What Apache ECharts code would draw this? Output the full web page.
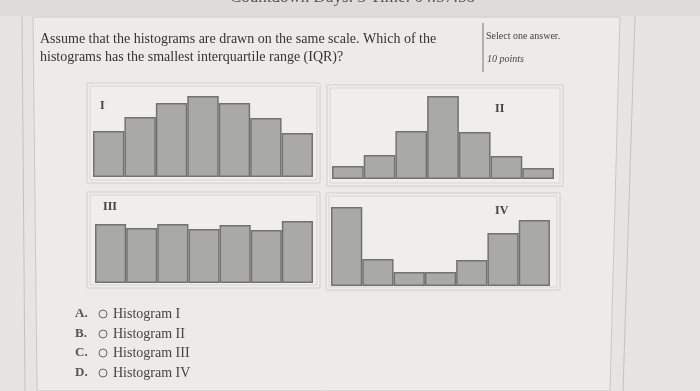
<!DOCTYPE html>
<html><head><meta charset="utf-8">
<script src="https://cdn.jsdelivr.net/npm/echarts@6/dist/echarts.min.js"></script>
<style>html,body{margin:0;padding:0;background:#e6e5e3;}#c{width:700px;height:391px;}</style>
</head><body><div id="c"></div>
<script>
// Data
const bins = ['1','2','3','4','5','6','7'];
const histI   = [46, 60, 74, 81, 74, 59, 44];
const histII  = [13, 24, 48, 83, 47, 23, 11];
const histIII = [59, 55, 59, 54, 58, 53, 62];
const histIV  = [79, 27, 14, 14, 26, 53, 66];
const histLabels = ['I', 'II', 'III', 'IV'];
const questionLines = ['Assume that the histograms are drawn on the same scale. Which of the',
                       'histograms has the smallest interquartile range (IQR)?'];
const choices = [['A.', 'Histogram I'], ['B.', 'Histogram II'], ['C.', 'Histogram III'], ['D.', 'Histogram IV']];

const chart = echarts.init(document.getElementById('c'));
const serif = '"Liberation Serif","DejaVu Serif",serif';
const grids = [
  {left: 93, top: 87, width: 220, height: 90},
  {left: 332, top: 89, width: 222, height: 90},
  {left: 95, top: 193, width: 218, height: 90},
  {left: 331, top: 196, width: 219, height: 90}
];
const allData = [histI, histII, histIII, histIV];
const barStyle = {color: '#a9a9a5', borderColor: '#727270', borderWidth: 1.5};

function box(x, y, w, h) {
  return [
    {type: 'rect', shape: {x: x, y: y, width: w, height: h}, style: {fill: '#efeeec', stroke: '#cfcecc', lineWidth: 1}},
    {type: 'rect', shape: {x: x + 3, y: y + 3, width: w - 6, height: h - 6}, style: {fill: 'none', stroke: '#d6d5d3', lineWidth: 1}}
  ];
}

const graphics = [
  {type: 'rect', shape: {x: 0, y: 0, width: 700, height: 16}, style: {fill: '#dddcda'}},
  {type: 'text', left: 230, top: -11, style: {text: 'Countdown Days: 3 Time: 04:57:58', font: '17px ' + serif, fill: '#555'}},
  {type: 'line', shape: {x1: 22, y1: 16, x2: 25, y2: 391}, style: {stroke: '#c4c3c1', lineWidth: 1}},
  {type: 'line', shape: {x1: 635, y1: 16, x2: 623, y2: 391}, style: {stroke: '#c4c3c1', lineWidth: 1}},
  {type: 'polygon', shape: {points: [[33, 17], [620, 17], [610, 391], [37, 391]]}, style: {fill: '#ecebe9', stroke: '#c9c8c6', lineWidth: 1}},
  {type: 'line', shape: {x1: 483, y1: 23, x2: 483, y2: 72}, style: {stroke: '#8a8987', lineWidth: 1.2}},
  {type: 'text', left: 486, top: 31, style: {text: 'Select one answer.', font: '10px ' + serif, fill: '#444'}},
  {type: 'text', left: 487, top: 54, style: {text: '10 points', font: 'italic 10px ' + serif, fill: '#444'}},
  {type: 'text', left: 40, top: 32, style: {text: questionLines[0], font: '14px ' + serif, fill: '#333'}},
  {type: 'text', left: 40, top: 50, style: {text: questionLines[1], font: '14px ' + serif, fill: '#333'}}
];
graphics.push(...box(87, 83, 233, 100));
graphics.push(...box(327, 85, 236, 101));
graphics.push(...box(87, 192, 233, 96));
graphics.push(...box(326, 193, 234, 97));
const labelPos = [[100, 100], [495, 103], [103, 201], [495, 205]];
histLabels.forEach((t, i) => graphics.push({type: 'text', left: labelPos[i][0], top: labelPos[i][1],
  style: {text: t, font: 'bold 12px ' + serif, fill: '#444'}}));
const rowY = [307, 327, 346, 366];
choices.forEach((c, i) => {
  graphics.push({type: 'text', left: 75, top: rowY[i], style: {text: c[0], font: 'bold 13px ' + serif, fill: '#555'}});
  graphics.push({type: 'circle', shape: {cx: 103, cy: rowY[i] + 7, r: 4}, style: {fill: 'none', stroke: '#666', lineWidth: 1}});
  graphics.push({type: 'text', left: 113, top: rowY[i], style: {text: c[1], font: '14px ' + serif, fill: '#444'}});
});

chart.setOption({
  animation: false,
  backgroundColor: '#e6e5e3',
  graphic: {elements: graphics},
  grid: grids,
  xAxis: grids.map((g, i) => ({type: 'category', gridIndex: i, data: bins, show: false})),
  yAxis: grids.map((g, i) => ({type: 'value', gridIndex: i, min: 0, max: 90, show: false})),
  series: allData.map((d, i) => ({type: 'bar', xAxisIndex: i, yAxisIndex: i, data: d,
    barCategoryGap: '0%', itemStyle: barStyle, z: 5}))
});
</script></body></html>
